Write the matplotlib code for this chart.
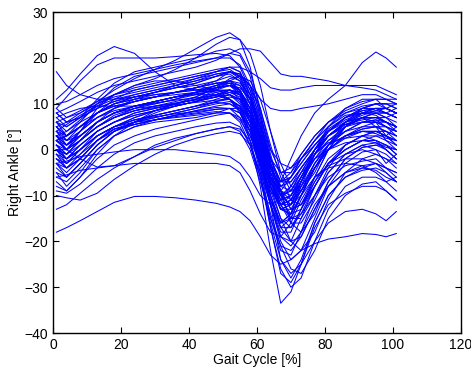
import matplotlib
matplotlib.use("Agg")
import matplotlib.pyplot as plt
import numpy as np

plt.rcParams["font.family"] = ["Liberation Sans", "DejaVu Sans"]

# gait cycle sample points [%]
gait_pct = [1, 4, 8, 13, 18, 24, 30, 36, 42, 48, 52, 55, 58, 61, 64, 67, 70, 73, 77, 81, 86, 91, 95, 98, 101]

# right ankle angle [deg], one row per trial
typical_trials = [
    [0, -2, 1, 4, 6, 8, 9, 10, 11, 12.5, 13, 12, 8, 1, -8, -13, -12, -7, -1, 2, 4, 5, 5, 4, 3],
    [2, 0, 3, 6, 8, 9.5, 10.5, 11.5, 12.5, 14, 15, 14, 10, 2, -8, -13, -14, -10, -4, 0, 3, 5, 6, 5, 4],
    [-2, -4, -1, 3, 5, 6.5, 7.5, 8.5, 9.5, 11, 12, 11, 7, 0, -8, -13, -13, -9, -3, 1, 3, 4, 4, 3, 1],
    [4, 3, 5, 8, 10, 11.5, 12.5, 13.5, 14.5, 16, 17, 16, 12, 5, -4, -9, -10, -7, -2, 2, 5, 7, 8, 8, 7],
    [-4, -6, -3, 1, 4, 6, 7.5, 8.5, 9.5, 10.5, 11, 9.5, 5, -3, -12, -19, -20, -15, -8, -3, 0, 2, 2, 0, -2],
    [1, -1, 2, 5, 7, 8.5, 9.5, 10.5, 11.5, 13.5, 15.5, 16, 14, 9, 1, -6, -11, -12, -8, -3, 1, 3, 4, 4, 3],
    [6, 4, 6, 8, 9.5, 10.5, 11.5, 12.5, 13.5, 14.5, 15, 13, 8, 1, -5, -8, -6, -3, 1, 4, 6, 7, 7, 7, 6],
    [-1, -3, 0, 4, 6, 7.5, 8.5, 9.5, 10.5, 12, 13, 12.5, 10, 5, -3, -10, -15, -15, -10, -4, 1, 3, 4, 3, 2],
    [3, 1, 4, 7, 9, 10.5, 11.5, 12.5, 13.5, 14.5, 15, 13, 8, -1, -10, -16, -15, -10, -4, 0, 3, 4.5, 5, 4, 2],
    [-6, -7, -4, 0, 3, 5, 6.5, 7.5, 8.5, 9.5, 10, 9, 5, -2, -10, -17, -20, -19, -13, -7, -2, 0.5, 1, 0, -2],
    [8, 6, 7, 9, 10.5, 11.5, 12.5, 13.5, 14.5, 16, 17, 16.5, 13, 7, 0, -3, -4, -2, 1, 4, 7, 9, 10, 10, 10],
    [0, -3, -1, 2, 4, 5.5, 6.5, 7.5, 8, 8.8, 9, 8, 5, -1, -8, -15, -20, -22, -18, -11, -5, -2, -1, -2, -4],
    [5, 2, 3, 6, 8, 9.5, 10.5, 11.5, 12.5, 13.5, 14, 13.5, 11, 5, -3, -9, -13, -12, -7, -2, 1, 3, 3, 2, 0],
    [-3, -5, -2, 2, 5, 7, 8.5, 9.5, 10.5, 11.5, 12.5, 12, 9, 3, -5, -11, -14, -13, -8, -3, 0, 2, 2, 1, -1],
    [2, 0, 2, 5, 7, 8.5, 9.5, 10.2, 10.8, 11.5, 12, 10.5, 6, -2, -12, -20, -24, -22, -15, -8, -3, -0.5, 0, -1, -3],
    [7, 5, 7, 10, 12, 13.5, 14.5, 15.5, 16.5, 17.5, 18, 17, 12, 4, -5, -10, -9, -5, 0, 3, 5, 6, 6, 6, 5],
    [-2, -3, 0, 3, 5, 6.5, 7.2, 7.8, 8.3, 8.8, 9, 8, 4, -2, -8, -12, -10, -6, -1, 1.5, 2.5, 3, 2, 1, -1],
    [4, 2, 4, 7, 9, 10.5, 11.5, 12.5, 13.5, 15, 17, 16.5, 14, 8, -1, -9, -16, -18, -14, -7, -2, 0.5, 1, 1, 0],
    [-5, -6, -3, 1, 4, 6, 8, 9.5, 10.5, 11.5, 12, 11, 7, -1, -10, -16, -14, -8, -1, 3, 5.5, 7, 7, 6, 4],
    [1, 0, 3, 6, 8, 9.5, 10.5, 11.5, 12.2, 12.8, 13, 12, 8, 2, -6, -10, -9, -5, 0, 4, 6.5, 8, 8.5, 8, 7],
    [3, 1, 3, 6, 8, 9.5, 10.5, 11.5, 12.5, 13.5, 14, 12.5, 8, 0, -8, -13, -12, -7, -1, 4, 7, 9, 10, 10, 9],
    [-1, -2, 1, 4, 6, 8, 9, 10, 11, 12, 13, 12, 8, 1, -7, -12, -11, -6, 0, 4, 7, 8, 8, 7, 5],
    [0, -2, 0, 3, 5, 6.5, 7.5, 8.5, 9.5, 10.3, 10, 8.5, 4, -4, -12, -19, -21, -18, -12, -8, -5, -3.5, -3, -5, -7],
    [9, 7, 8, 10, 11.5, 12.5, 13.5, 14.5, 15.5, 16.5, 17, 15.5, 11, 3, -6, -12, -11, -7, -1, 3, 6, 7.5, 8.5, 9, 8],
    [-8, -9, -6, -2, 1, 3, 4.5, 5.5, 6.5, 7.5, 8, 7, 4, -1, -7, -12, -15, -14, -10, -6, -3.5, -2.5, -2, -4, -6],
    [2, 0, 2, 5, 7, 9, 10.5, 11.5, 12.5, 13.5, 14.5, 14, 11, 5, -2, -7, -6, -3, 1, 4.5, 7, 8.5, 9, 9, 8],
    [5, 3, 5, 8, 10, 11.5, 12.5, 14, 15.5, 17, 18, 17, 12, 3, -7, -13, -14, -10, -4, 0, 3, 4.5, 5, 5, 4],
    [0, -1, 2, 5, 7, 8.5, 9.2, 9.8, 10.3, 10.8, 11, 9.5, 5, -3, -11, -17, -15, -10, -4, 0, 2.5, 4, 4, 3, 1],
    [1, -1, 1, 4, 6, 7.5, 8.5, 9.5, 10.5, 11.5, 13, 12.5, 9, 2, -6, -9, -6, -2, 2, 6, 8.5, 10, 11, 11, 11],
    [3, 0, 2, 5, 7.5, 9, 10, 11, 12, 13, 14, 13, 9, 3, -4, -9, -11, -9, -4, 1, 4, 6, 6.5, 5, 3],
    [-3, -6, -3, 1, 4, 6, 7, 8, 9, 10.5, 11.5, 11, 8, 2, -6, -12, -16, -16, -11, -5, -1, 1, 1.5, 0, -2],
    [6, 3, 5, 8, 10, 11, 12, 12.5, 13, 14, 15, 14.5, 12, 6, -2, -8, -9, -6, -1, 3, 6, 8, 9, 9, 8],
    [-1, -4, -2, 2, 4.5, 6, 7, 8, 9, 10, 10.5, 9.5, 6, 0, -7, -12, -12, -8, -3, 1, 4, 6, 6.5, 6, 5],
    [2, 1, 4, 8, 11, 13, 14, 15, 16, 17, 17.5, 16, 11, 3, -6, -11, -10, -6, -1, 3, 6, 7, 7, 6, 5],
    [0, -2, 0, 3, 5, 7, 8.5, 10, 11, 12, 12.5, 11.5, 7, 0, -9, -15, -17, -14, -8, -3, 0, 2, 3, 3, 2],
]

varied_trials = [
    [2, 0, 4, 9, 12, 14, 15, 15, 14, 13, 12, 10, 6, 0, -7, -11, -10, -6, -1, 3, 6, 8, 8, 7, 8],
    [4, 1, 3, 6, 8, 9, 9.5, 10, 11, 13, 15, 16, 15, 11, 4, -3, -8, -9, -5, 1, 6, 9, 10, 9, 10],
    [-5, -8, -5, 0, 3, 5, 6, 6.5, 7, 8, 9, 9, 7, 3, -3, -9, -13, -12, -6, 0, 5, 7, 6, 3, 5],
    [7, 8, 9, 9.5, 9.5, 9.5, 10, 11, 12.5, 14, 14.5, 12.5, 7, -2, -11, -16, -14, -7, 0, 5, 9, 11, 11, 9, 8],
    [-7, -9, -6, -1, 3, 6, 8.5, 10, 11.5, 13.5, 14, 12, 6, -4, -15, -22, -23, -18, -10, -5, -1, 1, 0, -3, -1],
    [1, -2, 0, 3, 5, 6, 6.5, 7, 7.5, 8, 8, 6.5, 3, -2, -6, -7, -5, -1, 3, 6, 8, 9, 9, 8, 9],
    [0, -1, 2, 6, 9, 11, 12.5, 13.5, 14, 15, 16, 15, 11, 4, -4, -10, -12, -10, -6, -4, -3, -3.5, -5, -7, -6],
    [3, 2, 5, 8, 10, 11, 11.5, 12, 12.5, 13, 13, 11, 6, -3, -12, -18, -18, -13, -6, 0, 5, 7, 5, 2, 1],
]

high_trials = [
    [17, 14, 12, 11, 11, 11.5, 12, 12.5, 13.5, 14.5, 14.5, 13, 9, 3, -4, -8, -7, -4, 0, 3, 5.5, 6.5, 7, 6, 5],
    [11, 13, 16.5, 20.5, 22.5, 21, 17, 14, 13, 13.5, 14, 13, 9, 2, -6, -10, -8, -4, 0, 3, 5.5, 6, 6, 5, 4],
    [9, 11.5, 15, 18.5, 20, 20, 20, 20.3, 20.7, 21, 20.5, 18, 13, 5, -3, -7, -6, -2, 2, 5, 7.5, 8, 7.5, 6, 5],
    [5, 6, 8, 10.5, 13, 15.5, 17.5, 19.5, 22, 24.5, 25.5, 24, 18, 8, -2, -7, -7, -4, 0, 4, 7, 8.5, 9, 8, 7],
    [3, 4, 6.5, 9.5, 12, 14, 15.5, 17.5, 20, 23, 24.5, 24, 21, 14, 4, -5, -9, -8, -4, 1, 5, 8, 9, 9, 8],
    [8, 9, 10.5, 12.5, 14, 15, 16, 17, 18, 19.5, 21, 22, 22, 21.5, 19, 16.5, 16, 16, 15.5, 15, 14, 13.5, 13, 12, 11],
    [6, 7, 8.5, 10.5, 12, 13, 14, 15, 16, 17, 18, 18, 17, 15.5, 13.5, 13, 13, 13.5, 14, 14, 14, 14, 14, 13, 12],
    [4, 5.5, 7.5, 9.5, 11, 12, 13, 14, 15, 16.5, 17, 16, 14, 11, 9, 8.5, 8.5, 9, 9.5, 10, 11, 12, 12, 11, 10],
    [2, 3, 5, 8, 9.5, 10.5, 11.5, 12.5, 13, 12.5, 11, 8, 3, -3, -7, -7, -2, 3, 8, 11, 14, 19, 21.3, 20, 18],
    [2, 3, 6, 10, 13.5, 16, 17, 18, 19, 20, 21, 20.5, 16, 7, -3, -10, -12, -9, -3, 1, 5, 7, 8, 8, 7],
    [6, 5, 7, 11, 14.5, 17, 18, 19, 20, 21.5, 22, 21, 17, 9, 0, -5, -5, -2, 2, 5, 8, 9.5, 10, 10, 9],
    [10, 10.5, 12, 14, 15.5, 16.5, 17.5, 18.5, 19.3, 20, 20, 18.5, 14, 6, -2, -5, -4, -1, 3, 6, 9, 10.5, 11, 11, 10],
]

low_trials = [
    [-18, -17, -15.5, -13.5, -11.5, -10.2, -10.2, -10.5, -11, -11.7, -12.5, -13.5, -15.5, -19, -23, -25, -24, -22, -20.5, -19.5, -19, -18.3, -18.5, -19, -18.3],
    [-3, -2.5, -1.5, -1, -0.5, 0, 0, 0, -0.5, -1, -1.5, -3, -6, -10, -12, -11, -8, -5, -2, 0, 1.5, 2, 1.5, 0.5, 0],
    [-6, -5.5, -4.5, -4, -3.5, -3, -3, -3, -3, -3, -3.5, -5, -9, -14, -18, -19, -16, -11, -6, -3.5, -2, -2, -3, -4, -5],
    [0, 0, -2, -3.8, -3.5, -1.5, 1, 2.5, 3.5, 4.5, 5, 4.5, 2, -3, -9, -12, -11, -7, -2, 1, 3, 4, 3.5, 2.5, 2],
    [-10, -10.5, -11, -9.5, -6.5, -3.5, -1, 1, 2.5, 3.5, 4, 3.5, 1, -5, -12, -17, -17, -13, -7, -3, -1, 0, -1, -2, -3],
    [-13, -12, -9.5, -6.5, -4, -1.5, 0.5, 2, 3.5, 4.5, 5, 4, 0, -7, -15, -21, -22, -19, -13, -8, -5, -4, -4.5, -6, -7],
    [-9, -9.5, -7.5, -4, -1, 1.5, 3, 4, 5, 5.8, 6, 5, 1, -6, -16, -24, -27, -25, -20, -16, -13.5, -13, -14, -15.5, -13.5],
]

deep_trials = [
    [5, 3, 5, 7, 8.5, 9.5, 10.2, 10.8, 11.3, 11.8, 11, 8.5, 2, -8, -22, -33.5, -31, -25, -17, -12, -9.5, -8, -8, -9, -11],
    [3, 1, 3, 6, 8, 9.5, 10.5, 11.5, 12, 12, 11, 9, 4, -5, -17, -27, -29, -25, -16, -10, -6, -4.5, -4, -5, -7],
    [-2, -4, -2, 2, 4.5, 5.5, 6.5, 7.5, 8.5, 9.2, 9, 7, 2, -6, -17, -26, -30, -28, -20, -13, -8, -6, -6, -7, -9],
    [-3, -4, -2, 2, 4.5, 5.5, 6.5, 7.2, 7.8, 8.3, 8, 6, 1, -6, -14, -21, -26, -27, -22, -15, -10, -7.5, -7, -9, -11],
    [8, 6, 7, 9, 10.5, 12, 13, 14, 15, 16, 16.5, 15, 10, 1, -12, -24, -28, -24, -16, -10, -6, -4, -3, -4, -5],
]

fig = plt.figure(figsize=(4.71, 3.68), dpi=100)
ax = fig.add_axes([0.1125, 0.095, 0.866, 0.872])

for group in (typical_trials, varied_trials, high_trials, low_trials, deep_trials):
    for trial in group:
        ax.plot(gait_pct, trial, color="#0000ff", lw=0.75, solid_joinstyle="round")

ax.set_xlim(0, 120)
ax.set_ylim(-40, 30)
ax.set_xticks(np.arange(0, 121, 20))
ax.set_yticks(np.arange(-40, 31, 10))
ax.tick_params(direction="in", top=True, right=True, length=4, width=0.8, labelsize=10)
for s in ax.spines.values():
    s.set_linewidth(1.0)

ax.set_xlabel("Gait Cycle [%]", fontsize=10, labelpad=1)
ax.set_ylabel("Right Ankle [°]", fontsize=10, labelpad=2)

fig.savefig("out.png", dpi=100)
